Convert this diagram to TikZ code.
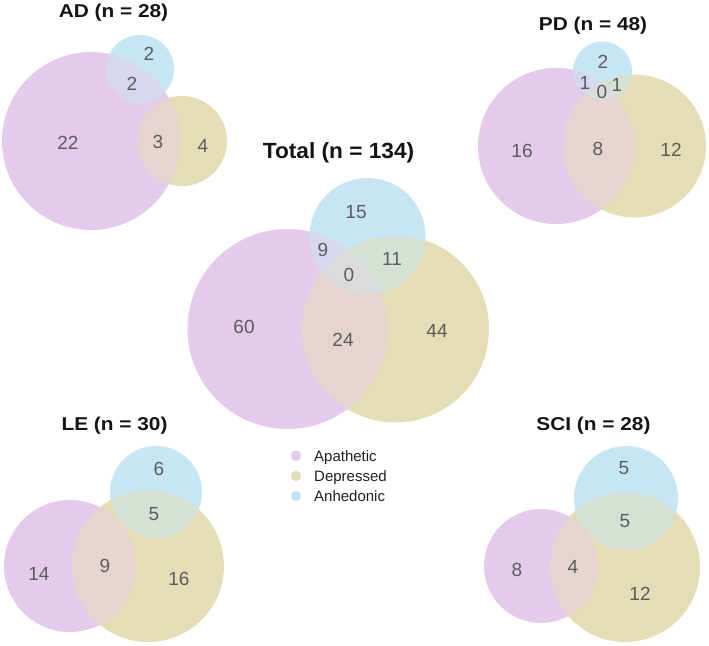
\documentclass[tikz,border=0pt]{standalone}
\usepackage{fontspec}
\setmainfont{Liberation Sans}
\usepackage{graphicx}
\definecolor{cP}{HTML}{E5CBEB}
\definecolor{cY}{HTML}{E5DDB5}
\definecolor{cB}{HTML}{C7E6F5}
\definecolor{cPY}{HTML}{E5D4D0}
\definecolor{cPB}{HTML}{D6D8F0}
\definecolor{cYB}{HTML}{D6E1D5}
\definecolor{cPYB}{HTML}{DBDADC}
\definecolor{numgray}{HTML}{5C5C5C}
\definecolor{ttlblack}{HTML}{141414}
\newcommand{\subttl}[1]{\scalebox{1.12}[1]{\fontsize{18.6}{18.6}\selectfont\bfseries #1}}
\newcommand{\mainttl}[1]{\scalebox{1.03}[1]{\fontsize{22}{22}\selectfont\bfseries #1}}
% purple x,y,r ; yellow x,y,r ; blue x,y,r
\newcommand{\vennset}[9]{%
  \fill[cP] (#1,#2) circle (#3pt);
  \fill[cY] (#4,#5) circle (#6pt);
  \fill[cB] (#7,#8) circle (#9pt);
  \begin{scope}\clip (#1,#2) circle (#3pt); \fill[cPY] (#4,#5) circle (#6pt);\end{scope}
  \begin{scope}\clip (#1,#2) circle (#3pt); \fill[cPB] (#7,#8) circle (#9pt);\end{scope}
  \begin{scope}\clip (#4,#5) circle (#6pt); \fill[cYB] (#7,#8) circle (#9pt);\end{scope}
  \begin{scope}\clip (#1,#2) circle (#3pt); \clip (#4,#5) circle (#6pt); \fill[cPYB] (#7,#8) circle (#9pt);\end{scope}
}
\begin{document}
\begin{tikzpicture}[x=1pt,y=-1pt,
  num/.style={inner sep=0pt,text=numgray,font=\fontsize{19}{19}\selectfont},
  ttl/.style={inner sep=0pt,anchor=base,text=ttlblack},
  legtxt/.style={inner sep=0pt,anchor=base west,text=black!88,font=\fontsize{15}{15}\selectfont}]
\useasboundingbox (0,0) rectangle (709,645);
% AD
\vennset{91}{141}{89}{182}{141}{45}{140}{69}{34}
% PD
\vennset{556}{146}{78}{634.5}{146}{71.5}{602.5}{71}{29.5}
% Total
\vennset{287.5}{329}{100}{395.5}{329}{93.5}{367.5}{236}{58}
% LE
\vennset{70}{566}{66}{148}{566}{76}{156}{492}{46}
% SCI
\vennset{541}{566}{57}{625}{567}{75}{626}{498}{52}
% titles
\node[ttl] (tAD) at (113.5,17.3) {\subttl{AD (n = 28)}};
\node[ttl] (tPD) at (593,30) {\subttl{PD (n = 48)}};
\node[ttl] (tTot) at (338.5,158) {\mainttl{Total (n = 134)}};
\node[ttl] (tLE) at (114.5,430) {\subttl{LE (n = 30)}};
\node[ttl] (tSCI) at (593.5,430) {\subttl{SCI (n = 28)}};
% AD labels
\node[num] (ad1) at (149,54) {2};
\node[num] (ad2) at (132,84) {2};
\node[num] (ad3) at (68,143) {22};
\node[num] (ad4) at (158,142) {3};
\node[num] (ad5) at (203,146) {4};
% PD labels
\node[num] (pd1) at (603,62) {2};
\node[num] (pd2) at (585,83) {1};
\node[num] (pd3) at (617,85) {1};
\node[num] (pd4) at (602,92) {0};
\node[num] (pd5) at (522,151) {16};
\node[num] (pd6) at (598,149) {8};
\node[num] (pd7) at (671,150) {12};
% Total labels
\node[num] (to1) at (356,212) {15};
\node[num] (to2) at (323,250) {9};
\node[num] (to3) at (392,259) {11};
\node[num] (to4) at (349,275) {0};
\node[num] (to5) at (244,327) {60};
\node[num] (to6) at (343,340) {24};
\node[num] (to7) at (437,331) {44};
% LE labels
\node[num] (le1) at (159,469) {6};
\node[num] (le2) at (154,514) {5};
\node[num] (le3) at (39,574) {14};
\node[num] (le4) at (105,566) {9};
\node[num] (le5) at (179,579) {16};
% SCI labels
\node[num] (sc1) at (624,468) {5};
\node[num] (sc2) at (625,521) {5};
\node[num] (sc3) at (517,570) {8};
\node[num] (sc4) at (573,567) {4};
\node[num] (sc5) at (640,594) {12};
% legend
\fill[cP] (296,455.7) circle (5.3pt);
\fill[cY] (296,476) circle (5.3pt);
\fill[cB] (296,496) circle (5.3pt);
\node[legtxt] (lg1) at (314,461.5) {Apathetic};
\node[legtxt] (lg2) at (314,481.8) {Depressed};
\node[legtxt] (lg3) at (314,501.7) {Anhedonic};
\end{tikzpicture}
\end{document}
